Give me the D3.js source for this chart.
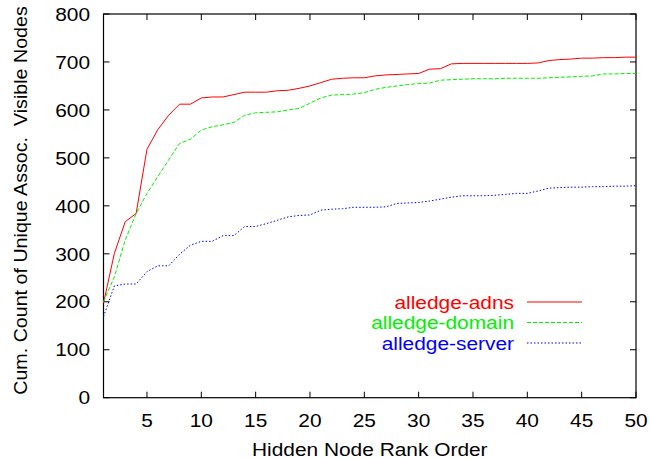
<!DOCTYPE html>
<html>
<head>
<meta charset="utf-8">
<script src="https://cdn.jsdelivr.net/npm/d3@7"></script>
<style>
body{margin:0;background:#fff;}
text{font-family:"Liberation Sans",Arial,sans-serif;white-space:pre;}
</style>
</head>
<body>
<div id="chart"></div>
<script>
var w=651;
var h=458;
var margin={top:14,right:15,bottom:60,left:103.5};
var fs=18.5;   // font size
var sx=1.13;   // reference text is a bit stretched sideways

// x = hidden node rank (1..50)
var ranks=d3.range(1,51);
var seriesNames=["alledge-adns","alledge-domain","alledge-server"];
var seriesColors=["#ff0000","#00f000","#0000ff"];
var seriesDash=["none","4,2","1.5,2"];

var adns=[197,301,367,384,518,559,589,612,612,625,627,627,632,637,637,637,640,641,645,650,
          657,664,666,667,667,671,673,674,675,676,685,686,696,697,697,697,697,697,697,697,
          698,703,705,706,708,708,709,709,710,710];
var domain=[200,252,329,384,426,461,496,530,539,558,565,569,574,589,594,595,596,600,603,614,
            625,631,632,633,636,643,647,650,653,655,656,662,663,664,665,665,665,666,666,666,
            666,667,668,669,670,671,675,675,676,676];
var server=[169,233,237,237,263,275,275,299,318,326,326,338,338,357,357,363,370,377,380,381,
            391,393,394,397,397,397,398,405,406,407,410,414,418,421,421,421,422,424,426,426,
            431,437,438,439,439,440,440,441,441,442];
var allSeries=[adns,domain,server];

var xTicks=[5,10,15,20,25,30,35,40,45,50];
var yTicks=[0,100,200,300,400,500,600,700,800];

var svg=d3.select("#chart").append("svg")
    .attr("width",w)
    .attr("height",h);

var x=d3.scaleLinear().domain([1,50]).range([margin.left,w-margin.right]);
var y=d3.scaleLinear().domain([0,800]).range([h-margin.bottom-0.3,margin.top]);

function label(px,py,anchor,txt,col){
    return svg.append("text")
        .attr("transform","translate("+px+","+py+")scale("+sx+",1)")
        .attr("text-anchor",anchor)
        .attr("font-size",fs)
        .attr("fill",col||"#000")
        .text(txt);
}

// frame
svg.append("rect")
    .attr("x",x(1)).attr("y",y(800))
    .attr("width",x(50)-x(1)).attr("height",y(0)-y(800))
    .attr("fill","none").attr("stroke","#000").attr("stroke-width",1.2);

// ticks, inward, mirrored like gnuplot
var tl=6;
xTicks.forEach(function(t){
    svg.append("line").attr("x1",x(t)).attr("x2",x(t)).attr("y1",y(0)).attr("y2",y(0)-tl).attr("stroke","#000");
    svg.append("line").attr("x1",x(t)).attr("x2",x(t)).attr("y1",y(800)).attr("y2",y(800)+tl).attr("stroke","#000");
    label(x(t),426.5,"middle",t);
});
yTicks.forEach(function(t){
    svg.append("line").attr("x1",x(1)).attr("x2",x(1)+tl).attr("y1",y(t)).attr("y2",y(t)).attr("stroke","#000");
    svg.append("line").attr("x1",x(50)).attr("x2",x(50)-tl).attr("y1",y(t)).attr("y2",y(t)).attr("stroke","#000");
    label(90,y(t)+6.7,"end",t);
});

// axis titles
label((x(1)+x(50))/2,455.5,"middle","Hidden Node Rank Order");
var yt=svg.append("text")
    .attr("text-anchor","middle").attr("font-size",fs)
    .text("Cum. Count of Unique Assoc.  Visible Nodes");
// fit the rotated title to the span it has in the picture (about 389px)
var ys=389/yt.node().getComputedTextLength();
yt.attr("transform","translate(27,200.5)rotate(-90)scale("+ys+",1)");

var line=d3.line()
    .x(function(d,i){return x(ranks[i]);})
    .y(function(d){return y(d);});

allSeries.forEach(function(s,i){
    svg.append("path").datum(s)
        .attr("d",line)
        .attr("fill","none")
        .attr("stroke",seriesColors[i])
        .attr("stroke-width",1)
        .attr("stroke-dasharray",seriesDash[i]);
});

// legend
var legY=[302,322.5,343];
seriesNames.forEach(function(n,i){
    label(514,legY[i]+6.5,"end",n,seriesColors[i]);
    svg.append("line").attr("x1",527).attr("x2",582)
        .attr("y1",legY[i]).attr("y2",legY[i])
        .attr("stroke",seriesColors[i]).attr("stroke-width",1)
        .attr("stroke-dasharray",seriesDash[i]);
});
</script>
</body>
</html>
